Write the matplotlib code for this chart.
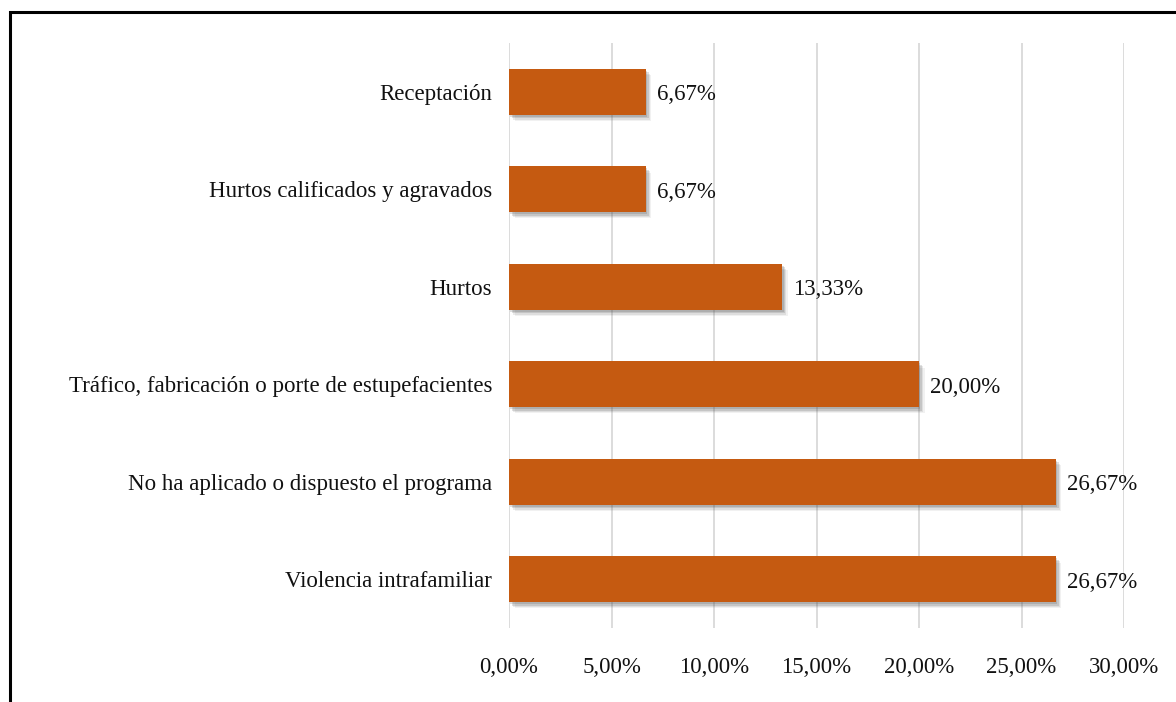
import matplotlib
matplotlib.use("Agg")
import matplotlib.pyplot as plt
import matplotlib.patheffects as pe
from matplotlib.patches import Rectangle

# Data (top to bottom as shown)
categories = [
    "Receptación",
    "Hurtos calificados y agravados",
    "Hurtos",
    "Tráfico, fabricación o porte de estupefacientes",
    "No ha aplicado o dispuesto el programa",
    "Violencia intrafamiliar",
]
values = [6.67, 6.67, 13.33, 20.00, 26.67, 26.67]
xticks = [0, 5, 10, 15, 20, 25, 30]

plt.rcParams["font.family"] = ["Liberation Serif", "DejaVu Serif"]

fig = plt.figure(figsize=(11.76, 7.02), dpi=100)
ax = fig.add_axes([509 / 1176, 1 - 628 / 702, (1124 - 509) / 1176, (628 - 43) / 702])

# outer frame (right/bottom edges cropped in the reference)
fig.patches.append(Rectangle((10 / 1176, -0.1), 1.2, 1 - 12 / 702 + 0.1,
                             transform=fig.transFigure, fill=False,
                             edgecolor="black", linewidth=2.2))

y = list(range(len(categories)))
bars = ax.barh(y, values, height=0.47, color="#C55A11", zorder=3)
# soft drop shadow made of a few faint offset layers
shadow = [pe.SimplePatchShadow(offset=(o, -o - 0.5), shadow_rgbFace="#555555", alpha=a)
          for o, a in [(4, 0.08), (3, 0.12), (2, 0.18), (1, 0.2)]]
for b in bars:
    b.set_path_effects(shadow + [pe.Normal()])

for yi, v in zip(y, values):
    ax.text(v + 0.55, yi + 0.03, f"{v:.2f}%".replace(".", ","), va="center", ha="left",
            fontsize=16.5, color="#111111")

ax.set_ylim(len(categories) - 0.5, -0.5)
ax.set_xlim(0, 30)
ax.set_xticks(xticks)
ax.set_xticklabels([f"{t:.2f}%".replace(".", ",") for t in xticks], fontsize=16.5, color="#111111")
ax.set_yticks(y)
ax.set_yticklabels(categories, fontsize=16.5, color="#111111")
ax.tick_params(axis="both", length=0)
ax.tick_params(axis="x", pad=21)
ax.tick_params(axis="y", pad=12)
ax.grid(axis="x", color="#d9d9d9", linewidth=1.3, zorder=0)
for s in ax.spines.values():
    s.set_visible(False)

fig.savefig("out.png", dpi=100)
